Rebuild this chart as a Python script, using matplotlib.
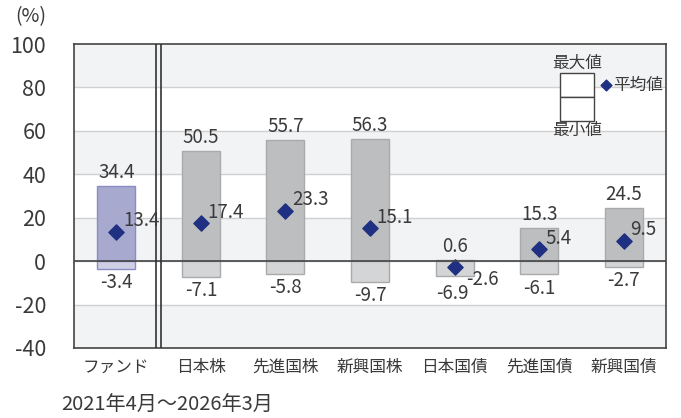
import matplotlib.pyplot as plt
import numpy as np

plt.rcParams['font.family'] = ['Noto Sans CJK JP', 'DejaVu Sans']

categories = ['ファンド', '日本株', '先進国株', '新興国株', '日本国債', '先進国債', '新興国債']
max_vals = [34.4, 50.5, 55.7, 56.3, 0.6, 15.3, 24.5]
min_vals = [-3.4, -7.1, -5.8, -9.7, -6.9, -6.1, -2.7]
avg_vals = [13.4, 17.4, 23.3, 15.1, -2.6, 5.4, 9.5]

txt = '#3a3a3a'
fig = plt.figure(figsize=(6.81, 4.18), dpi=100)
ax = fig.add_axes([0.1087, 0.1675, 0.8693, 0.7272])

x = np.arange(len(categories))
w = 0.45

# alternating background bands
for lo in range(-40, 100, 40):
    ax.axhspan(lo, lo + 20, color='#f2f3f5', zorder=0, lw=0)
for y in range(-20, 100, 20):
    ax.axhline(y, color='#d0d0d0', lw=1, zorder=1)

for i in x:
    if i == 0:
        up, low, ec = '#a8a9cf', '#cfd0e6', '#8a8cc4'
    else:
        up, low, ec = '#bdbec0', '#d4d5d7', '#a9aaac'
    ax.bar(i, max_vals[i], bottom=0, width=w, color=up, edgecolor=ec, lw=1, zorder=2)
    ax.bar(i, min_vals[i], bottom=0, width=w, color=low, edgecolor=ec, lw=1, zorder=2)
    ax.text(i, max_vals[i] + 1.5, f'{max_vals[i]}', ha='center', va='bottom', fontsize=13.5, color=txt)
    if i == 4:
        ax.text(i - 0.03, min_vals[i] - 3.0, f'{min_vals[i]}', ha='center', va='top', fontsize=13.5, color=txt)
        ax.text(i + 0.14, avg_vals[i] - 1.0, f'{avg_vals[i]}', ha='left', va='top',
                fontsize=13.5, color=txt, zorder=4)
    else:
        ax.text(i, min_vals[i] - 1.5, f'{min_vals[i]}', ha='center', va='top', fontsize=13.5, color=txt)
        ax.text(i + 0.08, avg_vals[i] + 0.3, f'{avg_vals[i]}', ha='left', va='bottom',
                fontsize=13.5, color=txt, zorder=4)

ax.scatter(x, avg_vals, marker='D', s=60, color='#1f3082', zorder=3)
ax.axhline(0, color='#444444', lw=1.2, zorder=3)

# double separator line
ax.axvline(0.5 - 0.03, color='#333333', lw=1.2, zorder=3)
ax.axvline(0.5 + 0.03, color='#333333', lw=1.2, zorder=3)

ax.set_xlim(-0.5, 6.5)
ax.set_ylim(-40, 100)
ax.set_yticks(range(-40, 101, 20))
ax.set_yticklabels([str(v) for v in range(-40, 101, 20)], fontsize=15.5, color=txt)
ax.set_xticks(x)
ax.set_xticklabels(categories, fontsize=12, color=txt)
ax.tick_params(length=0, pad=8)
ax.tick_params(axis='y', pad=20)
for s in ax.spines.values():
    s.set_color('#444444')
    s.set_linewidth(1.2)

# legend box
lx0, lx1 = 5.25, 5.65
ax.add_patch(plt.Rectangle((lx0, 75.6), lx1 - lx0, 11, facecolor='white', edgecolor='#444444', lw=1, zorder=5))
ax.add_patch(plt.Rectangle((lx0, 64.6), lx1 - lx0, 11, facecolor='white', edgecolor='#444444', lw=1, zorder=5))
ax.text((lx0 + lx1) / 2, 87, '最大値', ha='center', va='bottom', fontsize=12, color=txt, zorder=6)
ax.text((lx0 + lx1) / 2, 64.3, '最小値', ha='center', va='top', fontsize=12, color=txt, zorder=6)
ax.scatter([5.79], [81], marker='D', s=30, color='#1f3082', zorder=6)
ax.text(5.87, 81, '平均値', ha='left', va='center', fontsize=12, color=txt, zorder=6)

fig.text(0.022, 0.985, '(%)', ha='left', va='top', fontsize=14, color=txt)
fig.text(0.09, 0.005, '2021年4月～2026年3月', ha='left', va='bottom', fontsize=14.5, color=txt)

fig.savefig('out.png', dpi=100)
